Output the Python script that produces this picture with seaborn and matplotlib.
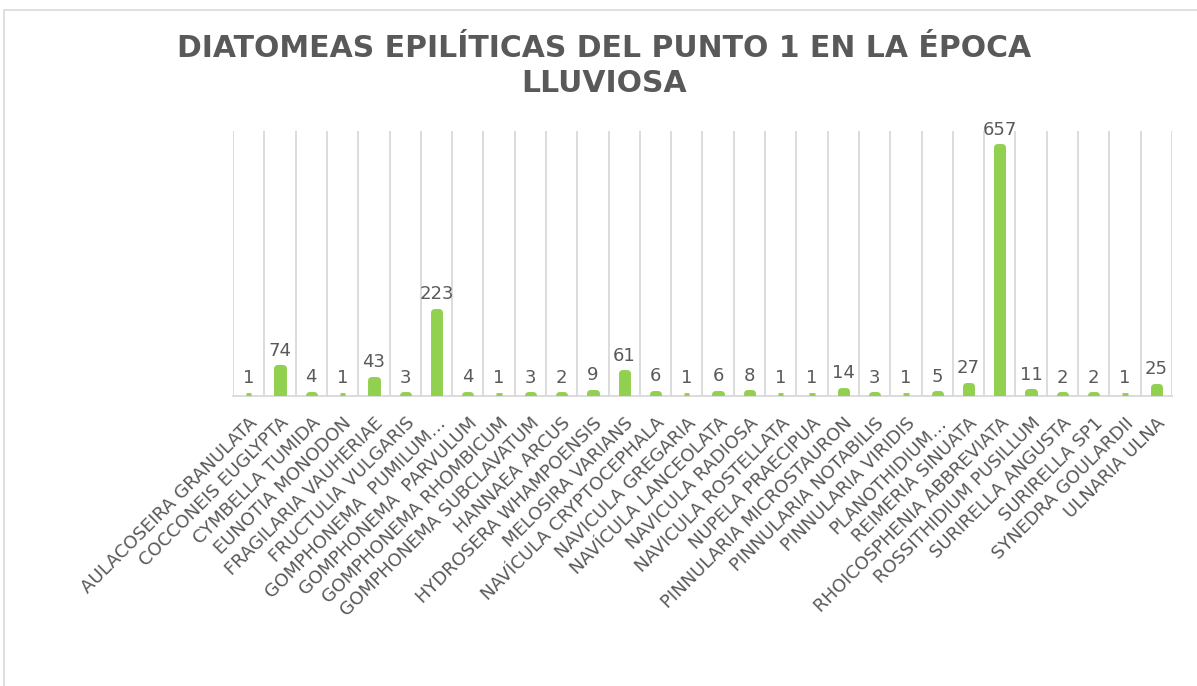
import numpy as np
import pandas as pd
import matplotlib
matplotlib.use("Agg")
import matplotlib.pyplot as plt
import seaborn as sns
from matplotlib.patches import Rectangle

especies = ["AULACOSEIRA GRANULATA", "COCCONEIS EUGLYPTA", "CYMBELLA TUMIDA",
            "EUNOTIA MONODON", "FRAGILARIA VAUHERIAE", "FRUCTULIA VULGARIS",
            "GOMPHONEMA  PUMILUM…", "GOMPHONEMA  PARVULUM", "GOMPHONEMA RHOMBICUM",
            "GOMPHONEMA SUBCLAVATUM", "HANNAEA ARCUS", "HYDROSERA WHAMPOENSIS",
            "MELOSIRA VARIANS", "NAVÍCULA CRYPTOCEPHALA", "NAVICULA GREGARIA",
            "NAVÍCULA LANCEOLATA", "NAVICULA RADIOSA", "NAVICULA ROSTELLATA",
            "NUPELA PRAECIPUA", "PINNULARIA MICROSTAURON", "PINNULARIA NOTABILIS",
            "PINNULARIA VIRIDIS", "PLANOTHIDIUM…", "REIMERIA SINUATA",
            "RHOICOSPHENIA ABBREVIATA", "ROSSITHIDIUM PUSILLUM", "SURIRELLA ANGUSTA",
            "SURIRELLA SP1", "SYNEDRA GOULARDII", "ULNARIA ULNA"]
conteo = [1, 74, 4, 1, 43, 3, 223, 4, 1, 3, 2, 9, 61, 6, 1, 6, 8, 1, 1, 14,
          3, 1, 5, 27, 657, 11, 2, 2, 1, 25]

df = pd.DataFrame({"especie": especies, "conteo": conteo})

sns.set_theme(style="white")
plt.rcParams['font.family'] = ['DejaVu Sans']

gris = '#595959'
verde = '#92D050'

fig = plt.figure(figsize=(11.97, 6.86), dpi=100)
ax = fig.add_axes([0.1947, 0.4227, 0.7843, 0.3863])

# borde grueso y redondeado para imitar las barras de Excel
sns.barplot(data=df, x="especie", y="conteo", color=verde, width=0.17,
            saturation=1, edgecolor=verde, linewidth=5, ax=ax)
for p in ax.patches:
    p.set_joinstyle('round')
    p.set_zorder(3)

ax.bar_label(ax.containers[0], labels=[str(v) for v in conteo], padding=6,
             fontsize=13, color=gris)

ax.set_ylim(0, 700)
ax.set_xlim(-0.5, len(especies) - 0.5)
ax.set_xlabel("")
ax.set_ylabel("")
ax.set_yticks([])
ax.set_xticks(np.arange(-0.5, len(especies), 1), minor=True)
ax.grid(which='minor', axis='x', color='#D9D9D9', lw=1.3)
ax.tick_params(axis='x', which='both', length=0, pad=13)
ax.set_xticks(range(len(especies)))
ax.set_xticklabels(especies, rotation=45, ha='right', rotation_mode='anchor',
                   fontsize=13, color=gris)
for s in ['top', 'left', 'right']:
    ax.spines[s].set_visible(False)
ax.spines['bottom'].set_color('#D9D9D9')
ax.spines['bottom'].set_linewidth(1.3)

fig.text(0.505, 0.93, "DIATOMEAS EPILÍTICAS DEL PUNTO 1 EN LA ÉPOCA",
         ha='center', va='center', fontsize=21.5, fontweight='bold', color=gris)
fig.text(0.505, 0.879, "LLUVIOSA", ha='center', va='center', fontsize=21.5,
         fontweight='bold', color=gris)

fig.patches.append(Rectangle((0.003, -0.01), 1.0, 0.995, transform=fig.transFigure,
                             fill=False, edgecolor='#D9D9D9', lw=1.2))

fig.savefig("out.png", dpi=100)
